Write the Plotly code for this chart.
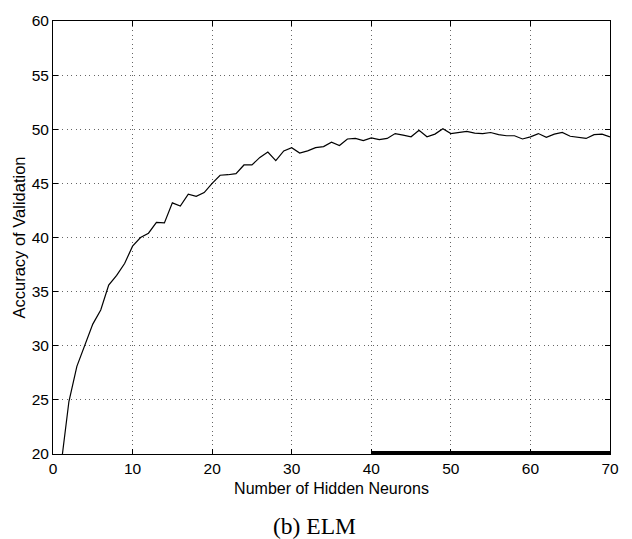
import plotly.graph_objects as go

neurons = list(range(1, 71))
accuracy = [
    18.9, 24.85, 28.1, 30.0, 32.0, 33.3, 35.6, 36.5, 37.6, 39.2,
    40.0, 40.4, 41.4, 41.35, 43.2, 42.9, 44.0, 43.8, 44.15, 45.0,
    45.75, 45.8, 45.9, 46.7, 46.7, 47.4, 47.9, 47.1, 48.0, 48.3,
    47.8, 48.0, 48.3, 48.4, 48.8, 48.5, 49.1, 49.15, 48.95, 49.2,
    49.05, 49.15, 49.6, 49.45, 49.3, 49.9, 49.3, 49.55, 50.05, 49.6,
    49.7, 49.8, 49.65, 49.6, 49.7, 49.5, 49.4, 49.4, 49.1, 49.3,
    49.6, 49.25, 49.55, 49.7, 49.35, 49.25, 49.15, 49.5, 49.55, 49.3,
]
bottom_x = [40, 70]
bottom_y = [20, 20]

x_ticks = [0, 10, 20, 30, 40, 50, 60, 70]
y_ticks = [20, 25, 30, 35, 40, 45, 50, 55, 60]

font_sans = "Liberation Sans, Arial, Helvetica, sans-serif"

fig = go.Figure()
fig.add_trace(go.Scatter(x=neurons, y=accuracy, mode="lines",
                         line=dict(color="black", width=1.2), showlegend=False))
fig.add_trace(go.Scatter(x=bottom_x, y=bottom_y, mode="lines",
                         line=dict(color="black", width=6), showlegend=False))

axis_common = dict(
    showline=True, linecolor="black", linewidth=1, mirror="ticks",
    ticks="inside", ticklen=5, tickcolor="black", tickwidth=1,
    showgrid=True, gridcolor="rgba(0,0,0,0.6)", griddash="1px,3.5px", gridwidth=1,
    zeroline=False,
    tickfont=dict(family=font_sans, size=15.5, color="black"),
)

fig.update_xaxes(range=[0, 70], tickvals=x_ticks, ticktext=[str(v) for v in x_ticks],
                 title=dict(text="Number of Hidden Neurons", standoff=7,
                            font=dict(family=font_sans, size=16, color="black")),
                 **axis_common)
fig.update_yaxes(range=[20, 60], tickvals=y_ticks, ticktext=[str(v) for v in y_ticks],
                 title=dict(text="Accuracy of Validation", standoff=1,
                            font=dict(family=font_sans, size=16.5, color="black")),
                 **axis_common)

fig.add_annotation(text="(b) ELM", xref="paper", yref="paper",
                   x=(314 - 53) / 557, y=-(526.7 - 454) / 439,
                   xanchor="center", yanchor="middle", showarrow=False,
                   font=dict(family="Liberation Serif, Times New Roman, serif", size=23.5, color="black"))

fig.update_layout(
    width=632, height=539,
    margin=dict(l=53, r=22, t=15, b=85),
    paper_bgcolor="white", plot_bgcolor="white",
    showlegend=False,
)

fig.write_html("out.html")
